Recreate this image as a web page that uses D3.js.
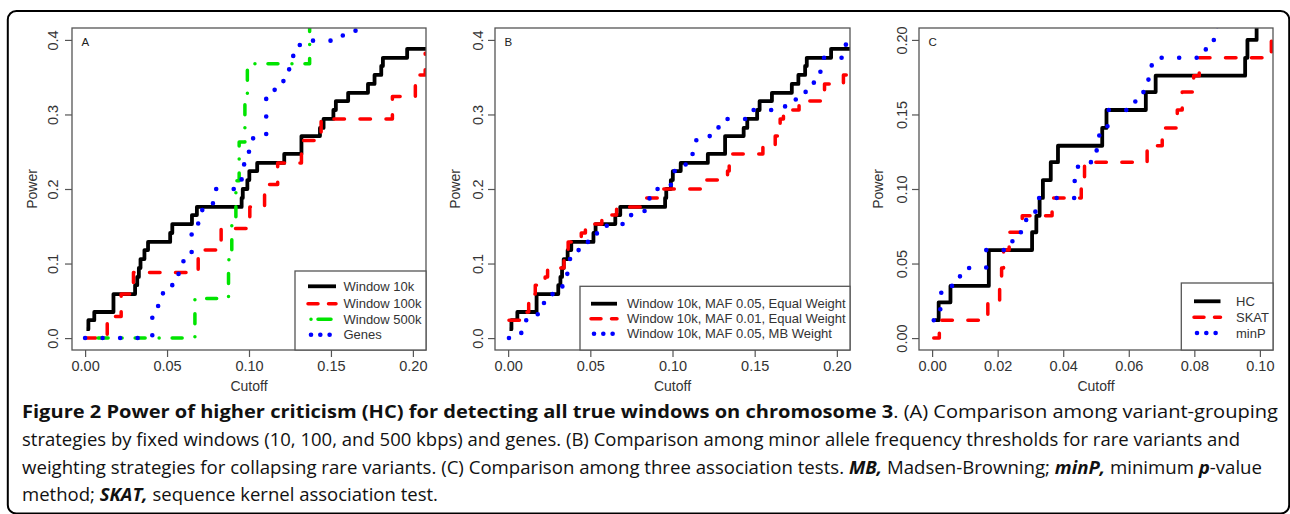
<!DOCTYPE html>
<html>
<head>
<meta charset="utf-8">
<script src="https://cdn.jsdelivr.net/npm/d3@7/dist/d3.min.js"></script>
<style>
  html, body { margin:0; padding:0; background:#ffffff; }
  svg { display:block; }
</style>
</head>
<body>
<svg id="fig" width="1290" height="514"></svg>
<script>
// ================= DATA =================
// Window 10k, MAF 0.05, Equal Weight  (= HC in panel C)
const win10kCutoff = [0.0008,0.002,0.0056,0.0173,0.0305,0.0318,0.0328,0.0338,0.0362,0.0384,0.0519,0.0532,0.0652,0.0682,0.0955,0.0962,0.099,0.1002,0.105,0.1215,0.132,0.1433,0.1455,0.1515,0.153,0.1605,0.1726,0.1766,0.1807,0.1817,0.1965,0.215];
const win10kPower  = [0.012,0.024,0.035,0.059,0.071,0.082,0.094,0.106,0.118,0.129,0.141,0.153,0.165,0.176,0.188,0.2,0.212,0.224,0.235,0.247,0.271,0.282,0.294,0.306,0.318,0.329,0.341,0.353,0.365,0.376,0.388,0.388];

// Window 100k
const win100kCutoff = [0,0.0135,0.022,0.0295,0.069,0.083,0.1005,0.1095,0.1175,0.132,0.144,0.1875,0.2015,0.2075,0.215];
const win100kPower  = [0,0.029,0.059,0.088,0.118,0.147,0.176,0.206,0.235,0.265,0.294,0.324,0.353,0.382,0.382];

// Window 500k
const win500kCutoff = [0,0.067,0.0875,0.0895,0.092,0.094,0.0975,0.099,0.137,0.215];
const win500kPower  = [0,0.053,0.105,0.158,0.211,0.263,0.316,0.368,0.421,0.421];

// Genes
const genesCutoff = [0,0.041,0.0475,0.057,0.065,0.069,0.0715,0.078,0.093,0.0955,0.099,0.1025,0.1105,0.1155,0.121,0.1245,0.127,0.131,0.157,0.165,0.215];
const genesPower  = [0,0.043,0.071,0.103,0.153,0.166,0.176,0.2,0.211,0.233,0.25,0.272,0.321,0.333,0.346,0.366,0.386,0.399,0.406,0.43,0.43];

// Window 10k, MAF 0.01, Equal Weight
const maf01Cutoff = [0.0005,0.0115,0.0125,0.014,0.0165,0.0225,0.024,0.034,0.035,0.0365,0.0445,0.047,0.057,0.066,0.082,0.093,0.117,0.1335,0.1345,0.136,0.155,0.1625,0.164,0.1655,0.1675,0.177,0.1915,0.1925,0.204,0.215];
const maf01Power  = [0.024,0.035,0.047,0.059,0.071,0.082,0.094,0.106,0.118,0.129,0.141,0.153,0.165,0.176,0.188,0.2,0.212,0.224,0.235,0.247,0.259,0.271,0.282,0.294,0.306,0.318,0.329,0.341,0.353,0.353];

// Window 10k, MAF 0.05, MB Weight
const mbCutoff = [0.0005,0.008,0.011,0.018,0.0244,0.033,0.0345,0.036,0.0375,0.0395,0.0445,0.054,0.06,0.0705,0.083,0.086,0.0885,0.099,0.101,0.108,0.1115,0.113,0.1145,0.1275,0.128,0.147,0.1685,0.175,0.181,0.186,0.19,0.1915,0.2055,0.215];
const mbPower  = [0,0.012,0.024,0.047,0.059,0.071,0.082,0.094,0.106,0.118,0.129,0.141,0.153,0.165,0.176,0.188,0.2,0.212,0.224,0.235,0.247,0.259,0.271,0.282,0.294,0.306,0.318,0.329,0.341,0.353,0.365,0.376,0.4,0.4];

// SKAT
const skatCutoff = [0.0005,0.0022,0.017,0.0206,0.0212,0.0218,0.0235,0.0275,0.0366,0.0455,0.0465,0.0656,0.0702,0.0748,0.0763,0.0798,0.0815,0.1035,0.11];
const skatPower  = [0,0.012,0.024,0.035,0.047,0.059,0.071,0.082,0.094,0.106,0.118,0.129,0.141,0.153,0.165,0.176,0.188,0.2,0.2];

// minP
const minpCutoff = [0.0005,0.0025,0.0028,0.0085,0.0165,0.0245,0.0287,0.0315,0.0435,0.0445,0.0502,0.051,0.0535,0.062,0.066,0.067,0.0835,0.087,0.11];
const minpPower  = [0.012,0.024,0.035,0.047,0.059,0.071,0.082,0.094,0.106,0.118,0.129,0.141,0.153,0.165,0.176,0.188,0.2,0.212,0.212];

// ticks and labels
const xTicksAB = [0, 0.05, 0.10, 0.15, 0.20];
const yTicksAB = [0, 0.1, 0.2, 0.3, 0.4];
const xTicksC  = [0, 0.02, 0.04, 0.06, 0.08, 0.10];
const yTicksC  = [0, 0.05, 0.10, 0.15, 0.20];
const legendA = ["Window 10k", "Window 100k", "Window 500k", "Genes"];
const legendB = ["Window 10k, MAF 0.05, Equal Weight", "Window 10k, MAF 0.01, Equal Weight", "Window 10k, MAF 0.05, MB Weight"];
const legendC = ["HC", "SKAT", "minP"];
const panelLetters = ["A", "B", "C"];
const xTitle = "Cutoff";
const yTitle = "Power";

const captionLines = [
  [["b","Figure 2 Power of higher criticism (HC) for detecting all true windows on chromosome 3"],["r",". (A) Comparison among variant-grouping"]],
  [["r","strategies by fixed windows (10, 100, and 500 kbps) and genes. (B) Comparison among minor allele frequency thresholds for rare variants and"]],
  [["r","weighting strategies for collapsing rare variants. (C) Comparison among three association tests. "],["bi","MB,"],["r"," Madsen-Browning; "],["bi","minP,"],["r"," minimum "],["bi","p"],["r","-value"]],
  [["r","method; "],["bi","SKAT,"],["r"," sequence kernel association test."]]
];

// ================= STYLES =================
const styles = {
  solid:   {color:"#000000", width:3.8, dash:null,             ldash:null,            loff:0},
  dashed:  {color:"#ff0000", width:3.5, dash:"10.5,15.5",      ldash:"10,10.5",       loff:0},
  dotdash: {color:"#00e400", width:3.5, dash:"0.01,13,10,14",  ldash:"0.01,7,13,7",   loff:-3},
  dotted:  {color:"#0000ff", width:4.6, dash:"0.01,17.5",      ldash:"0.01,9.3",      loff:-3}
};

const svg = d3.select("#fig");
const FONT = "'Liberation Sans', Arial, Helvetica, sans-serif";

// outer rounded frame
svg.append("rect")
  .attr("x", 7.8).attr("y", 11).attr("width", 1281.4).attr("height", 502.5)
  .attr("rx", 8.5).attr("fill", "none").attr("stroke", "#000").attr("stroke-width", 2);

const TOP = 28, BOTTOM = 350;

const panels = [
  { letter: panelLetters[0], left: 72, right: 426, xDom: [-0.008, 0.208], yDom: [-0.016, 0.416],
    xTicks: xTicksAB, yTicks: yTicksAB, xFmt: ".2f", yFmt: ".1f", yLabX: 57.5, titleX: 37,
    series: [[win10kCutoff, win10kPower, "solid"], [win100kCutoff, win100kPower, "dashed"],
             [win500kCutoff, win500kPower, "dotdash"], [genesCutoff, genesPower, "dotted"]],
    legend: { x: 295, y: 271, rows: [286.3, 303.8, 319.2, 334.7], s0: 308, s1: 336, tx: 343.5,
              labels: legendA, kinds: ["solid","dashed","dotdash","dotted"] } },
  { letter: panelLetters[1], left: 495, right: 850, xDom: [-0.008, 0.208], yDom: [-0.016, 0.416],
    xTicks: xTicksAB, yTicks: yTicksAB, xFmt: ".2f", yFmt: ".1f", yLabX: 483, titleX: 460,
    series: [[win10kCutoff, win10kPower, "solid"], [maf01Cutoff, maf01Power, "dashed"],
             [mbCutoff, mbPower, "dotted"]],
    legend: { x: 580, y: 286.3, rows: [303.7, 318.7, 333.7], s0: 591, s1: 617, tx: 627,
              labels: legendB, kinds: ["solid","dashed","dotted"] } },
  { letter: panelLetters[2], left: 919, right: 1273, xDom: [-0.004, 0.104], yDom: [-0.008, 0.208],
    xTicks: xTicksC, yTicks: yTicksC, xFmt: ".2f", yFmt: ".2f", yLabX: 906.5, titleX: 883,
    series: [[win10kCutoff, win10kPower, "solid"], [skatCutoff, skatPower, "dashed"],
             [minpCutoff, minpPower, "dotted"]],
    legend: { x: 1181.3, y: 283, rows: [301.3, 317.3, 333], s0: 1194, s1: 1220.5, tx: 1236,
              labels: legendC, kinds: ["solid","dashed","dotted"] } }
];

panels.forEach((p, i) => {
  const x = d3.scaleLinear().domain(p.xDom).range([p.left, p.right]);
  const y = d3.scaleLinear().domain(p.yDom).range([BOTTOM, TOP]);
  const g = svg.append("g");

  const clipId = "clip" + i;
  svg.append("clipPath").attr("id", clipId).append("rect")
    .attr("x", p.left).attr("y", TOP).attr("width", p.right - p.left).attr("height", BOTTOM - TOP);

  // data lines
  const line = d3.line().x(d => x(d[0])).y(d => y(d[1])).curve(d3.curveStepAfter);
  const lg = g.append("g").attr("clip-path", `url(#${clipId})`);
  p.series.forEach(([cx, py, kind]) => {
    const st = styles[kind];
    lg.append("path")
      .attr("d", line(d3.zip(cx, py)))
      .attr("fill", "none")
      .attr("stroke", st.color)
      .attr("stroke-width", st.width)
      .attr("stroke-linecap", kind === "solid" ? "butt" : "round")
      .attr("stroke-linejoin", "round")
      .attr("stroke-dasharray", st.dash);
  });

  // bottom axis
  const xa = g.append("g").attr("transform", `translate(0,${BOTTOM})`)
    .call(d3.axisBottom(x).tickValues(p.xTicks).tickFormat(d3.format(p.xFmt)).tickSize(7).tickPadding(3));
  xa.select(".domain").remove();
  xa.selectAll("line").attr("stroke", "#555").attr("stroke-width", 1.2);
  xa.selectAll("text").attr("font-family", FONT).attr("font-size", 14.5).attr("fill", "#333")
    .attr("y", 20.5).attr("dy", 0);

  // left axis
  const ya = g.append("g").attr("transform", `translate(${p.left},0)`)
    .call(d3.axisLeft(y).tickValues(p.yTicks).tickFormat(d3.format(p.yFmt)).tickSize(7));
  ya.select(".domain").remove();
  ya.selectAll("line").attr("stroke", "#555").attr("stroke-width", 1.2);
  ya.selectAll("text").remove();
  ya.selectAll(".tick").append("text")
    .attr("transform", `translate(${p.yLabX - p.left},0) rotate(-90)`)
    .attr("text-anchor", "middle")
    .attr("font-family", FONT).attr("font-size", 14.5).attr("fill", "#333")
    .text(d => d3.format(p.yFmt)(d));

  // plot box
  g.append("rect").attr("x", p.left).attr("y", TOP)
    .attr("width", p.right - p.left).attr("height", BOTTOM - TOP)
    .attr("fill", "none").attr("stroke", "#555").attr("stroke-width", 1.3);

  // panel letter
  g.append("text").attr("x", p.left + 9.5).attr("y", 45.5)
    .attr("font-family", FONT).attr("font-size", 11.5).attr("fill", "#222").text(p.letter);

  // axis titles
  g.append("text").attr("x", (p.left + p.right) / 2).attr("y", 391)
    .attr("text-anchor", "middle").attr("font-family", FONT).attr("font-size", 14).attr("fill", "#333")
    .text(xTitle);
  g.append("text").attr("transform", `translate(${p.titleX},${(TOP + BOTTOM) / 2}) rotate(-90)`)
    .attr("text-anchor", "middle").attr("font-family", FONT).attr("font-size", 14).attr("fill", "#333")
    .text(yTitle);

  // legend
  const L = p.legend;
  g.append("rect").attr("x", L.x).attr("y", L.y).attr("width", p.right - L.x).attr("height", BOTTOM - L.y)
    .attr("fill", "#fff").attr("stroke", "#555").attr("stroke-width", 1.3);
  L.labels.forEach((lab, j) => {
    const st = styles[L.kinds[j]];
    g.append("line").attr("x1", L.s0).attr("x2", L.s1).attr("y1", L.rows[j]).attr("y2", L.rows[j])
      .attr("stroke", st.color).attr("stroke-width", st.width)
      .attr("stroke-linecap", L.kinds[j] === "solid" ? "butt" : "round")
      .attr("stroke-dasharray", st.ldash).attr("stroke-dashoffset", st.loff);
    g.append("text").attr("x", L.tx).attr("y", L.rows[j]).attr("dy", "0.36em")
      .attr("font-family", FONT).attr("font-size", 13).attr("fill", "#333").text(lab);
  });
});

// caption
const capBase = [418, 446, 473.5, 500.5];
const capWidth = [1256, 1218, 1240, 416];
const CAPFONT = "'Open Sans', 'DejaVu Sans Condensed', sans-serif";
captionLines.forEach((parts, i) => {
  const t = svg.append("text").attr("x", 22).attr("y", capBase[i])
    .attr("font-family", CAPFONT).attr("font-size", 18).attr("fill", "#111")
    .attr("textLength", capWidth[i]).attr("lengthAdjust", "spacingAndGlyphs");
  parts.forEach(([s, txt]) => {
    const ts = t.append("tspan").text(txt);
    if (s === "b" || s === "bi") ts.attr("font-weight", "bold");
    if (s === "bi") ts.attr("font-style", "italic");
  });
});
</script>
</body>
</html>
